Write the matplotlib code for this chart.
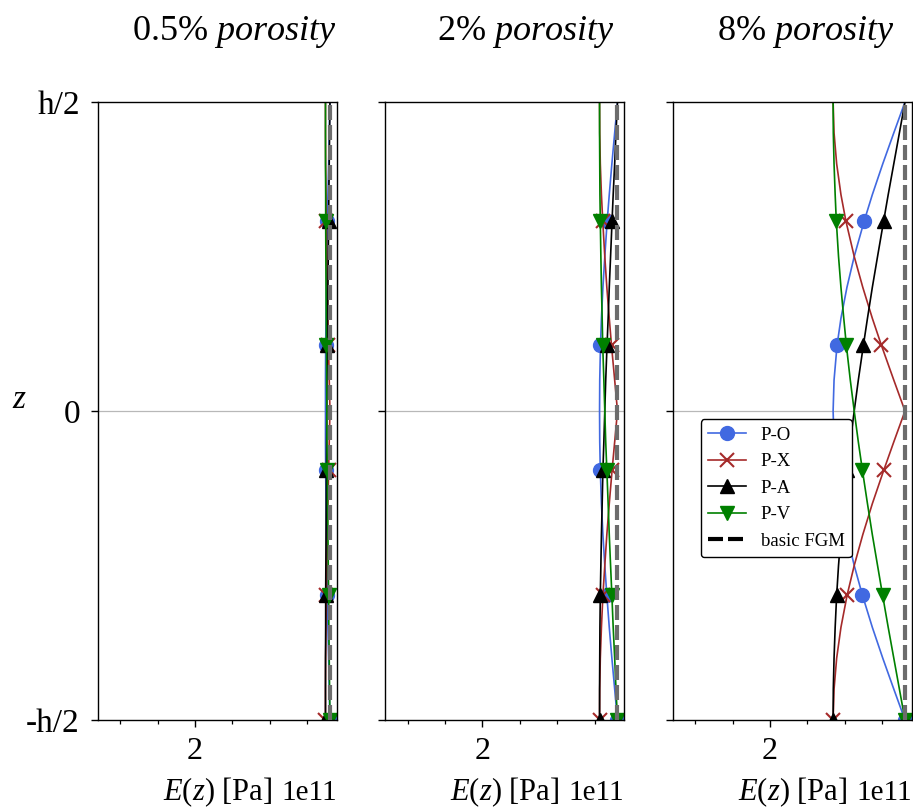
import numpy as np
import matplotlib
matplotlib.use("Agg")
import matplotlib.pyplot as plt
from matplotlib.lines import Line2D
from matplotlib.ticker import MultipleLocator

plt.rcParams['font.family'] = ['Liberation Serif', 'DejaVu Serif']
plt.rcParams['mathtext.fontset'] = 'custom'
plt.rcParams['mathtext.rm'] = 'Liberation Serif'
plt.rcParams['mathtext.it'] = 'Liberation Serif:italic'

# ---- data (E in units of 1e11 Pa) ----
porosity_titles = ['0.5%', '2%', '8%']
series_names = ['P-O', 'P-X', 'P-A', 'P-V']
z = [-0.5, -0.45, -0.4, -0.35, -0.298, -0.25, -0.2, -0.15, -0.096, -0.05, 0.0,
     0.05, 0.106, 0.15, 0.2, 0.25, 0.308, 0.35, 0.4, 0.45, 0.5]
E_fgm = 2.723

E_05_PO = [2.723, 2.719, 2.716, 2.712, 2.709, 2.706, 2.704, 2.702, 2.700, 2.699, 2.699,
           2.699, 2.700, 2.702, 2.704, 2.706, 2.709, 2.712, 2.716, 2.719, 2.723]
E_05_PX = [2.699, 2.699, 2.700, 2.702, 2.704, 2.706, 2.709, 2.712, 2.716, 2.719, 2.723,
           2.719, 2.715, 2.712, 2.709, 2.706, 2.703, 2.702, 2.700, 2.699, 2.699]
E_05_PA = [2.699, 2.699, 2.699, 2.700, 2.700, 2.701, 2.702, 2.703, 2.704, 2.705, 2.706,
           2.707, 2.709, 2.710, 2.712, 2.714, 2.716, 2.717, 2.719, 2.721, 2.723]
E_05_PV = [2.723, 2.721, 2.719, 2.717, 2.716, 2.714, 2.712, 2.710, 2.709, 2.707, 2.706,
           2.705, 2.704, 2.703, 2.702, 2.701, 2.700, 2.700, 2.699, 2.699, 2.699]

E_2_PO = [2.723, 2.708, 2.693, 2.679, 2.666, 2.655, 2.645, 2.637, 2.631, 2.628, 2.627,
          2.628, 2.632, 2.637, 2.645, 2.655, 2.668, 2.679, 2.693, 2.708, 2.723]
E_2_PX = [2.627, 2.628, 2.631, 2.637, 2.645, 2.655, 2.666, 2.679, 2.694, 2.708, 2.723,
          2.708, 2.691, 2.679, 2.666, 2.655, 2.644, 2.637, 2.631, 2.628, 2.627]
E_2_PA = [2.627, 2.627, 2.628, 2.629, 2.631, 2.634, 2.637, 2.641, 2.645, 2.650, 2.655,
          2.660, 2.667, 2.673, 2.679, 2.686, 2.694, 2.700, 2.708, 2.715, 2.723]
E_2_PV = [2.723, 2.715, 2.708, 2.700, 2.693, 2.686, 2.679, 2.673, 2.666, 2.660, 2.655,
          2.650, 2.644, 2.641, 2.637, 2.634, 2.631, 2.629, 2.628, 2.627, 2.627]

E_8_PO = [2.723, 2.663, 2.604, 2.548, 2.495, 2.451, 2.412, 2.380, 2.355, 2.343, 2.338,
          2.343, 2.359, 2.380, 2.412, 2.451, 2.505, 2.548, 2.604, 2.663, 2.723]
E_8_PX = [2.338, 2.343, 2.357, 2.380, 2.413, 2.451, 2.497, 2.548, 2.609, 2.663, 2.723,
          2.663, 2.597, 2.548, 2.497, 2.451, 2.406, 2.380, 2.357, 2.343, 2.338]
E_8_PA = [2.338, 2.339, 2.343, 2.349, 2.357, 2.367, 2.380, 2.395, 2.413, 2.430, 2.451,
          2.473, 2.500, 2.522, 2.548, 2.576, 2.609, 2.633, 2.663, 2.693, 2.723]
E_8_PV = [2.723, 2.693, 2.663, 2.633, 2.603, 2.576, 2.548, 2.522, 2.495, 2.473, 2.451,
          2.430, 2.409, 2.395, 2.380, 2.367, 2.355, 2.349, 2.343, 2.339, 2.338]

yticklabels = ['-h/2', '0', 'h/2']
yticks = [-0.5, 0.0, 0.5]

panels = [
    [E_05_PO, E_05_PX, E_05_PA, E_05_PV],
    [E_2_PO, E_2_PX, E_2_PA, E_2_PV],
    [E_8_PO, E_8_PX, E_8_PA, E_8_PV],
]

colors = ['royalblue', 'brown', 'black', 'green']
markers = ['o', 'x', '^', 'v']
title_x = [0.570, 0.586, 0.557]

fig, axes = plt.subplots(1, 3, figsize=(9.13, 8.10), dpi=100, sharey=True)
fig.subplots_adjust(left=0.1073, right=0.9986, bottom=0.1111, top=0.8741, wspace=0.2044)

mark_idx = [0, 4, 8, 12, 16]
for i, ax in enumerate(axes):
    ax.axhline(0, color='#b8b8b8', lw=0.9, zorder=1)
    for vals, c, m in zip(panels[i], colors, markers):
        ax.plot(np.array(vals) * 1e11, z, color=c, lw=1.2, marker=m, ms=10,
                mew=1.5 if m == 'x' else 1.0, markevery=mark_idx, zorder=2)
    ax.plot([E_fgm * 1e11] * len(z), z, color='#6c6c6c', lw=3,
            linestyle=(0, (3.6, 1.2)), zorder=3)
    ax.set_xlim(1.4805e11, 2.759e11)
    ax.set_ylim(-0.5, 0.5)
    ax.xaxis.set_major_locator(MultipleLocator(1e11))
    ax.xaxis.set_minor_locator(MultipleLocator(0.2e11))
    ax.tick_params(axis='x', which='major', direction='out', length=5,
                   width=1.0, labelsize=23, pad=7.5)
    ax.tick_params(axis='y', which='major', direction='out', length=5,
                   width=1.0, labelsize=24, pad=8)
    ax.tick_params(axis='x', which='minor', direction='out', length=3, width=0.9)
    ax.xaxis.get_offset_text().set_fontsize(21)
    ax.xaxis.OFFSETTEXTPAD = 9.5
    ax.set_xlabel('$E(z)$ [Pa]', fontsize=22, labelpad=6.5)
    ax.text(title_x[i], 1.100, porosity_titles[i] + r' $\mathit{porosity}$',
            transform=ax.transAxes, ha='center', va='baseline', fontsize=26)
    for sp in ax.spines.values():
        sp.set_linewidth(1.0)

axes[0].set_yticks(yticks)
axes[0].set_yticklabels(yticklabels)
axes[0].set_ylabel('$z$', rotation=0, fontsize=24, ha='center', va='center')
axes[0].yaxis.set_label_coords(-0.327, 0.518)

handles = [Line2D([], [], color=c, marker=m, ms=10, lw=1.2,
                  mew=1.5 if m == 'x' else 1.0)
           for c, m in zip(colors, markers)]
handles.append(Line2D([], [], color='black', lw=3, linestyle=(0, (3.6, 1.2))))
labels = series_names + ['basic FGM']
leg = axes[2].legend(handles, labels, loc='upper left', bbox_to_anchor=(0.116, 0.4866),
                     borderaxespad=0, fontsize=13.5, framealpha=1, fancybox=True)
leg.get_frame().set_edgecolor('black')
leg.get_frame().set_linewidth(1.0)

fig.savefig('out.png', dpi=100)
